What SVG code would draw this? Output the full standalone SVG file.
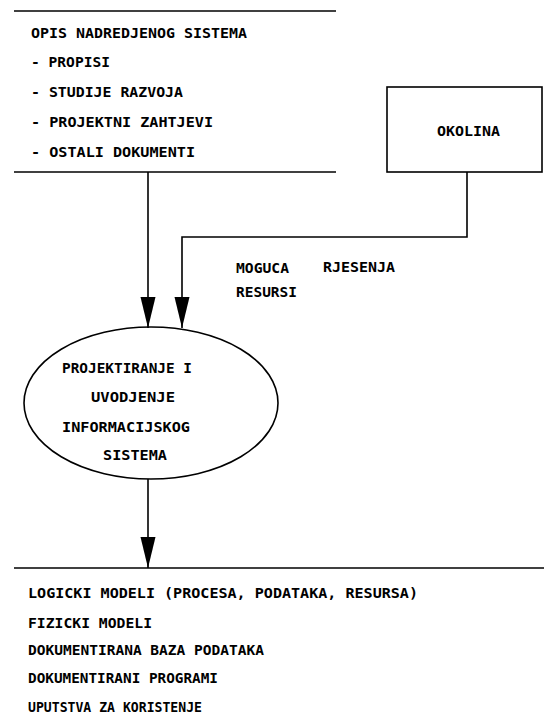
<svg xmlns="http://www.w3.org/2000/svg" width="544" height="726" viewBox="0 0 544 726">
  <style>
    .ln { stroke: #000; stroke-width: 1.6; fill: none; }
    .tx { font-family: "DejaVu Sans Mono", "Liberation Mono", monospace; font-weight: bold; font-size: 14px; fill: #000; }
  </style>
  <defs>
    <marker id="head" markerUnits="userSpaceOnUse" markerWidth="32" markerHeight="16" refX="31" refY="8" orient="auto">
      <path d="M0,0.5 L31,8 L0,15.5 Z" fill="#000"/>
    </marker>
  </defs>

  <rect width="544" height="726" fill="#fff"/>

  <!-- higher-level system description (open store) -->
  <g id="nadredjeni-sistem">
    <line class="ln" x1="14" y1="11" x2="336" y2="11"/>
    <line class="ln" x1="14" y1="172" x2="336" y2="172"/>
    <text class="tx" x="31" y="38" textLength="216" lengthAdjust="spacingAndGlyphs">OPIS NADREDJENOG SISTEMA</text>
    <text class="tx" x="31" y="67" textLength="79" lengthAdjust="spacingAndGlyphs">- PROPISI</text>
    <text class="tx" x="31" y="97" textLength="152" lengthAdjust="spacingAndGlyphs">- STUDIJE RAZVOJA</text>
    <text class="tx" x="31" y="127" textLength="182" lengthAdjust="spacingAndGlyphs">- PROJEKTNI ZAHTJEVI</text>
    <text class="tx" x="31" y="157" textLength="164" lengthAdjust="spacingAndGlyphs">- OSTALI DOKUMENTI</text>
  </g>

  <!-- environment -->
  <g id="okolina">
    <rect class="ln" x="387" y="87" width="155" height="85"/>
    <text class="tx" x="437" y="136" textLength="63" lengthAdjust="spacingAndGlyphs">OKOLINA</text>
  </g>

  <!-- process -->
  <g id="projektiranje">
    <ellipse class="ln" cx="151" cy="403" rx="127" ry="76"/>
    <text class="tx" x="62" y="373" textLength="130" lengthAdjust="spacingAndGlyphs">PROJEKTIRANJE I</text>
    <text class="tx" x="91" y="402" textLength="84" lengthAdjust="spacingAndGlyphs">UVODJENJE</text>
    <text class="tx" x="62" y="432" textLength="128" lengthAdjust="spacingAndGlyphs">INFORMACIJSKOG</text>
    <text class="tx" x="103" y="460" textLength="64" lengthAdjust="spacingAndGlyphs">SISTEMA</text>
  </g>

  <!-- results (open store) -->
  <g id="rezultati">
    <line class="ln" x1="14" y1="568" x2="544" y2="568"/>
    <text class="tx" x="28" y="598" textLength="390" lengthAdjust="spacingAndGlyphs">LOGICKI MODELI (PROCESA, PODATAKA, RESURSA)</text>
    <text class="tx" x="28" y="628" textLength="124" lengthAdjust="spacingAndGlyphs">FIZICKI MODELI</text>
    <text class="tx" x="28" y="655" textLength="236" lengthAdjust="spacingAndGlyphs">DOKUMENTIRANA BAZA PODATAKA</text>
    <text class="tx" x="28" y="683" textLength="190" lengthAdjust="spacingAndGlyphs">DOKUMENTIRANI PROGRAMI</text>
    <text class="tx" x="28" y="712" textLength="174" lengthAdjust="spacingAndGlyphs">UPUTSTVA ZA KORISTENJE</text>
  </g>

  <!-- flows -->
  <g id="connectors">
    <line class="ln" x1="148" y1="172" x2="148" y2="328" marker-end="url(#head)"/>
    <path class="ln" d="M467,172 V237 H182 V328" marker-end="url(#head)"/>
    <line class="ln" x1="148" y1="479" x2="148" y2="568" marker-end="url(#head)"/>
    <text class="tx" x="236" y="273" textLength="53" lengthAdjust="spacingAndGlyphs">MOGUCA</text>
    <text class="tx" x="323" y="272" textLength="72" lengthAdjust="spacingAndGlyphs">RJESENJA</text>
    <text class="tx" x="236" y="297" textLength="61" lengthAdjust="spacingAndGlyphs">RESURSI</text>
  </g>
</svg>
